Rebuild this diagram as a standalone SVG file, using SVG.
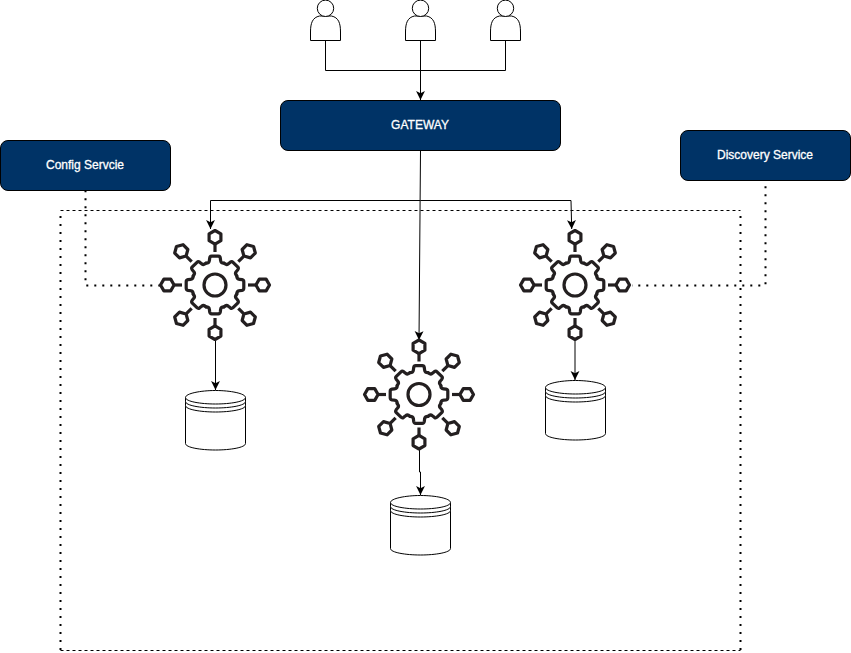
<svg xmlns="http://www.w3.org/2000/svg" width="851" height="653" viewBox="0 0 851 653">
<style>
.box{fill:#003366;stroke:#000;stroke-width:1}
.lbl{fill:#fff;stroke:#fff;stroke-width:.3;font-family:"Liberation Sans",Arial,sans-serif;font-size:12px;text-anchor:middle}
.wire{fill:none;stroke:#000;stroke-width:1}
.dot{fill:none;stroke:#000;stroke-width:2;stroke-dasharray:2 6}
.dash{fill:none;stroke:#000;stroke-width:1;stroke-dasharray:3 3}
.shape{fill:#fff;stroke:#000;stroke-width:1}
.ic{fill:none;stroke:#231f20;stroke-width:3.2;stroke-linejoin:round}
</style>
<defs>
<marker id="arr" markerUnits="userSpaceOnUse" markerWidth="10" markerHeight="10" refX="8" refY="4" orient="auto" viewBox="0 0 9 8">
<path d="M0 0L8 4L0 8L2 4Z" fill="#000"/>
</marker>
<g id="sat"><path d="M0-54.5L5.9-51.1V-44.3L0-40.9L-5.9-44.3V-51.1Z"/><path d="M0-40.5V-33"/></g>
<path id="tooth" d="M-9.03-21.8Q-5.8-21.8-5.6-24.5L-5.3-27Q-5-28.8-3.3-28.8H3.3Q5-28.8 5.3-27L5.6-24.5Q5.8-21.8 9.03-21.8" stroke-linecap="round"/>
<g id="gear" class="ic">
<use href="#tooth"/><use href="#tooth" transform="rotate(45)"/><use href="#tooth" transform="rotate(90)"/><use href="#tooth" transform="rotate(135)"/><use href="#tooth" transform="rotate(180)"/><use href="#tooth" transform="rotate(225)"/><use href="#tooth" transform="rotate(270)"/><use href="#tooth" transform="rotate(315)"/>
<circle r="11"/>
<use href="#sat"/><use href="#sat" transform="rotate(45)"/><use href="#sat" transform="rotate(90)"/><use href="#sat" transform="rotate(135)"/><use href="#sat" transform="rotate(180)"/><use href="#sat" transform="rotate(225)"/><use href="#sat" transform="rotate(270)"/><use href="#sat" transform="rotate(315)"/>
</g>
<g id="person" class="shape">
<path d="M-15 40.5V32C-15 23-13 17.500-6 16H6C13 17.500 15 23 15 32V40.5Z"/>
<circle cy="8.300" r="8.200"/>
</g>
<g id="db" class="shape">
<path d="M-30 7C-30 3-15 0 0 0S30 3 30 7V53C30 57 15 59.5 0 59.5S-30 57-30 53Z"/>
<path d="M-30 7C-30 11-15 13.5 0 13.5S30 11 30 7M-30 11C-30 15-15 17.5 0 17.5S30 15 30 11M-30 15C-30 19-15 21.5 0 21.5S30 19 30 15"/>
</g>
</defs>
<g id="boundary">
<path class="dash" d="M60.5 210.5H740.5M60.5 650.5H740.5"/>
<path class="dot" d="M60.5 216V650M740.5 216V650"/>
</g>
<g id="connectors">
<path class="wire" d="M325.5 41V70.5H505.5V41"/>
<path class="wire" d="M420.5 41V100" marker-end="url(#arr)"/>
<path class="wire" d="M420.5 150.5L419 340" marker-end="url(#arr)"/>
<path class="wire" d="M420.5 200.5H210.5V229" marker-end="url(#arr)"/>
<path class="wire" d="M420.5 200.5H571L571.7 229" marker-end="url(#arr)"/>
<path class="wire" d="M215.5 340V390" marker-end="url(#arr)"/>
<path class="wire" d="M575 340V380" marker-end="url(#arr)"/>
<path class="wire" d="M419.5 450V472H420.5V495" marker-end="url(#arr)"/>
<path class="dot" d="M85.5 190.3V282M86.3 285.5H160"/>
<path class="dot" d="M765.5 186.3V285M760.3 285.5H632"/>
</g>
<g id="user1"><use href="#person" x="325.5"/></g>
<g id="user2"><use href="#person" x="420.5"/></g>
<g id="user3"><use href="#person" x="505.5"/></g>
<g id="gateway"><rect class="box" x="280.5" y="100.5" width="280" height="50" rx="7.5"/><text class="lbl" x="420" y="129">GATEWAY</text></g>
<g id="config"><rect class="box" x="0.5" y="140.5" width="170" height="50" rx="7.5"/><text class="lbl" x="85" y="169">Config Servcie</text></g>
<g id="discovery"><rect class="box" x="680.5" y="130.5" width="170" height="50" rx="7.5"/><text class="lbl" x="765" y="159">Discovery Service</text></g>
<g id="service1"><use href="#gear" x="215" y="285"/></g>
<g id="service2"><use href="#gear" x="419" y="394.5"/></g>
<g id="service3"><use href="#gear" x="575" y="285"/></g>
<g id="db1"><use href="#db" x="215.5" y="390.5"/></g>
<g id="db2"><use href="#db" x="420.5" y="495.5"/></g>
<g id="db3"><use href="#db" x="575.5" y="380.5"/></g>
</svg>
